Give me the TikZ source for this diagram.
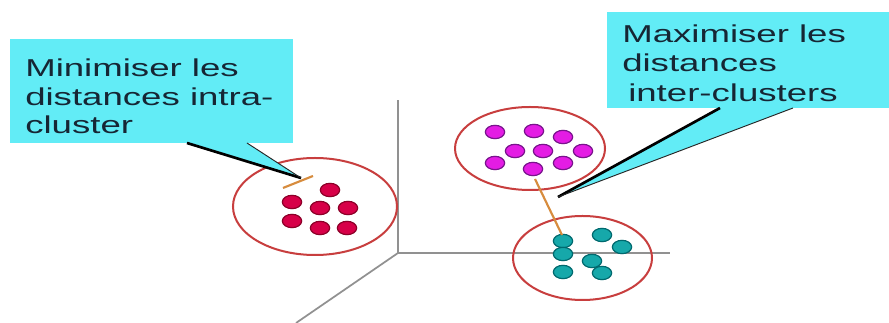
\documentclass[tikz,border=0pt]{standalone}
\usepackage{fontspec}
\usetikzlibrary{shapes.geometric}
\newfontfamily\stretchsans[FakeStretch=1.5]{Liberation Sans}
\definecolor{boxcyan}{RGB}{98,236,246}
\definecolor{txtdark}{RGB}{22,38,52}
\definecolor{ringred}{RGB}{200,62,62}
\definecolor{axisgray}{RGB}{145,145,145}
\definecolor{dotred}{RGB}{215,0,72}
\definecolor{dotredb}{RGB}{140,0,40}
\definecolor{dotmag}{RGB}{228,28,228}
\definecolor{dotmagb}{RGB}{120,20,140}
\definecolor{dotteal}{RGB}{22,168,170}
\definecolor{dottealb}{RGB}{0,105,110}
\definecolor{linkorange}{RGB}{215,140,62}
\begin{document}
\begin{tikzpicture}[x=0.75pt,y=-0.75pt,
  axisline/.style={draw=axisgray,line width=1.3pt},
  ring/.style={draw=ringred,line width=1.5pt,ellipse,inner sep=0pt},
  dotbase/.style={ellipse,inner sep=0pt,minimum width=14.5pt,minimum height=10pt,line width=0.9pt},
  reddot/.style={dotbase,fill=dotred,draw=dotredb},
  magdot/.style={dotbase,fill=dotmag,draw=dotmagb},
  tealdot/.style={dotbase,fill=dotteal,draw=dottealb},
  link/.style={draw=linkorange,line width=1.6pt},
  callbox/.style={fill=boxcyan,draw=none,inner sep=0pt,anchor=north west},
  calltext/.style={anchor=base west,inner sep=0pt,text=txtdark,font=\stretchsans\fontsize{18.3pt}{21pt}\selectfont},
  wedgefill/.style={fill=boxcyan,draw=none},
  wedgethick/.style={draw=black,line width=2pt},
  wedgethin/.style={draw=black!85,line width=0.7pt}]
\useasboundingbox (0,0) rectangle (889,323);
\fill[white] (0,0) rectangle (889,323);
% axes
\coordinate (O) at (398,253);
\coordinate (Ytop) at (398,100);
\coordinate (Xend) at (670,253);
\coordinate (Zend) at (296,323);
\draw[axisline] (O) -- (Ytop);
\draw[axisline] (O) -- (Xend);
\draw[axisline] (O) -- (Zend);
% cluster rings
\node[ring,minimum width=123pt,minimum height=72.75pt] (ringL) at (315,206.5) {};
\node[ring,minimum width=112.5pt,minimum height=62.25pt] (ringM) at (530,148.5) {};
\node[ring,minimum width=104.25pt,minimum height=63pt] (ringT) at (582.5,258) {};
% red dots
\node[reddot] (r1) at (330,190) {};
\node[reddot] (r2) at (292,202) {};
\node[reddot] (r3) at (320,208) {};
\node[reddot] (r4) at (348,208) {};
\node[reddot] (r5) at (292,221) {};
\node[reddot] (r6) at (320,228) {};
\node[reddot] (r7) at (347,228) {};
% magenta dots
\node[magdot] (m1) at (495,132) {};
\node[magdot] (m2) at (534,131) {};
\node[magdot] (m3) at (563,137) {};
\node[magdot] (m4) at (515,151) {};
\node[magdot] (m5) at (543,151) {};
\node[magdot] (m6) at (583,151) {};
\node[magdot] (m7) at (495,163) {};
\node[magdot] (m8) at (533,169) {};
\node[magdot] (m9) at (563,163) {};
% teal dots
\node[tealdot] (t1) at (563,241) {};
\node[tealdot] (t2) at (602,235) {};
\node[tealdot] (t3) at (622,247) {};
\node[tealdot] (t4) at (563,254) {};
\node[tealdot] (t5) at (592,261) {};
\node[tealdot] (t6) at (563,272) {};
\node[tealdot] (t7) at (602,273) {};
% distance links
\coordinate (la) at (283,188);
\coordinate (lb) at (313,176);
\draw[link] (la) -- (lb);
\coordinate (ma) at (535,179);
\coordinate (mb) at (562,235);
\draw[link] (ma) -- (mb);
% left callout
\node[callbox,minimum width=212.25pt,minimum height=78pt] (boxL) at (10,39) {};
\node[calltext] (l1) at (25,76.7) {Minimiser les};
\node[calltext] (l2) at (25,105.5) {distances intra-};
\node[calltext] (l3) at (25,134) {cluster};
\coordinate (lw1) at (187,143);
\coordinate (lw2) at (247,143);
\coordinate (lt) at (301,178);
\fill[wedgefill] (lw1) -- (lt) -- (lw2) -- cycle;
\draw[wedgethick] (lw1) -- (lt);
\draw[wedgethin] (lw2) -- (lt);
% right callout
\node[callbox,minimum width=211.5pt,minimum height=72pt] (boxR) at (607,12) {};
\node[calltext] (r1t) at (622,42.7) {Maximiser les};
\node[calltext] (r2t) at (622,71.7) {distances};
\node[calltext] (r3t) at (628,101.7) {inter-clusters};
\coordinate (rw1) at (720,108);
\coordinate (rw2) at (793,108);
\coordinate (rt) at (558,197);
\fill[wedgefill] (rw1) -- (rt) -- (rw2) -- cycle;
\draw[wedgethick] (rw1) -- (rt);
\draw[wedgethin] (rw2) -- (rt);
\end{tikzpicture}
\end{document}
